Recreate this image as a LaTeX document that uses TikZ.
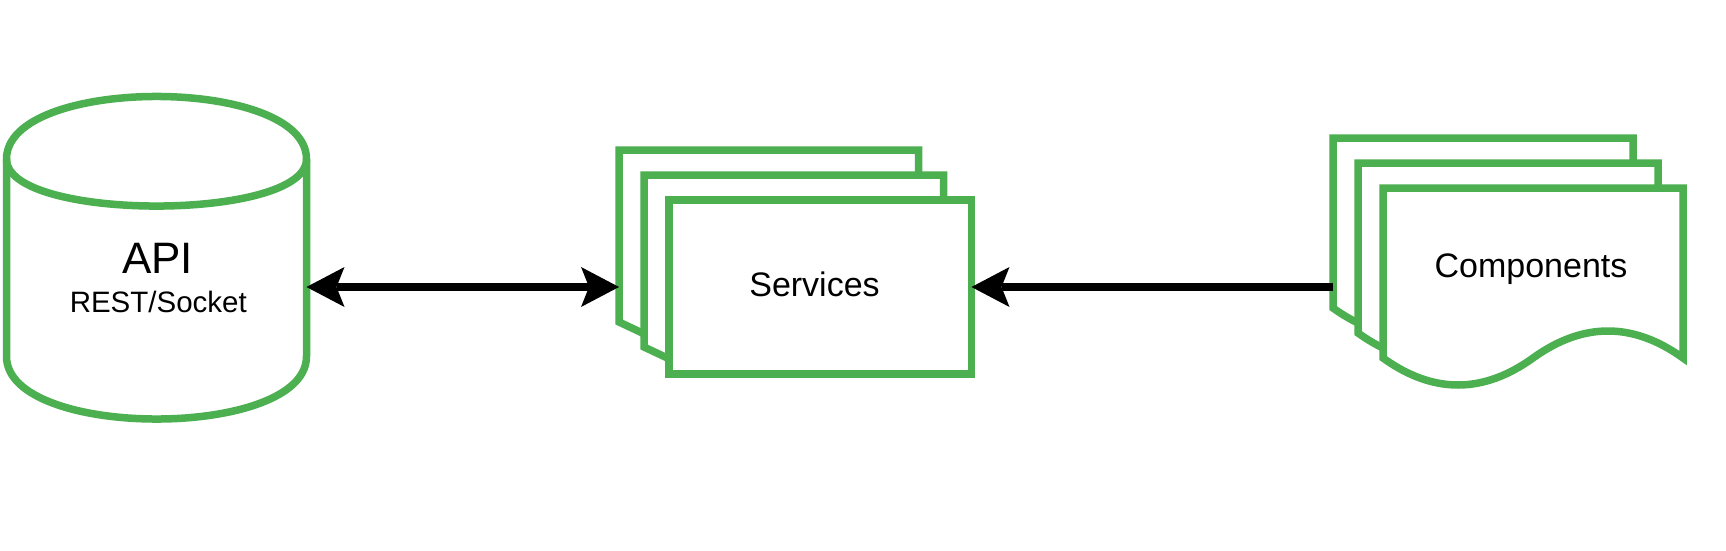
\documentclass[tikz,border=0pt]{standalone}
\usepackage{fontspec}
\setmainfont{Liberation Sans}
\usetikzlibrary{arrows.meta}
\definecolor{grn}{HTML}{4CAF50}
\begin{document}
\begin{tikzpicture}[x=1pt,y=-1pt,
  shapeline/.style={draw=grn, line width=7.5pt, fill=white, line join=miter},
  anchorbox/.style={draw=none, inner sep=0pt, outer sep=0pt},
  tipshape/.tip={Stealth[length=38pt,width=40pt,inset=8pt,line width=0pt]},
  conn/.style={draw=black, line width=7.5pt},
  lbl/.style={inner sep=0pt, anchor=base, text=black}]
\useasboundingbox[fill=white] (0,0) rectangle (1726,551);

% API cylinder
\path[shapeline] (6.5,159.1) .. controls (6.5,75.6) and (306.5,75.6) .. (306.5,159.1)
  -- (306.5,356.4) .. controls (306.5,439.9) and (6.5,439.9) .. (6.5,356.4) -- cycle;
\draw[draw=grn, line width=7.5pt] (6.5,159.1) .. controls (6.5,221.7) and (306.5,221.7) .. (306.5,159.1);
\node[anchorbox, minimum width=300pt, minimum height=322.5pt] (api) at (156.5,257.75) {};
\node[lbl, font=\fontsize{44}{52}\selectfont] (apititle) at (157.5,273.3) {API};
\node[lbl, font=\fontsize{29.5}{35}\selectfont] (apisub) at (158.3,312.7) {REST/Socket};

% Services stack
\path[shapeline] (619,150) -- (918.5,150) -- (918.5,330) -- (660,341.3) -- (619,322) -- cycle;
\path[shapeline] (644,175) -- (943.5,175) -- (943.5,355) -- (685,366.3) -- (644,347) -- cycle;
\path[shapeline] (669,200) rectangle (971.5,374);
\node[anchorbox, minimum width=299.5pt, minimum height=174pt] (svcb1) at (768.75,237) {};
\node[anchorbox, minimum width=302.5pt, minimum height=174pt] (svcf) at (820.25,287) {};
\node[lbl, font=\fontsize{34}{40}\selectfont] (svctext) at (814.5,296) {Services};

% Components stack
\begin{scope}[shift={(1333,138)}]
\path[shapeline] (0,0) -- (300,0) -- (300,170) .. controls (250,134) and (200,134) .. (150,170)
  .. controls (100,206) and (50,206) .. (0,170) -- cycle;
\end{scope}
\begin{scope}[shift={(1358,163)}]
\path[shapeline] (0,0) -- (300,0) -- (300,170) .. controls (250,134) and (200,134) .. (150,170)
  .. controls (100,206) and (50,206) .. (0,170) -- cycle;
\end{scope}
\begin{scope}[shift={(1383,188)}]
\path[shapeline] (0,0) -- (300,0) -- (300,170) .. controls (250,134) and (200,134) .. (150,170)
  .. controls (100,206) and (50,206) .. (0,170) -- cycle;
\end{scope}
\node[anchorbox, minimum width=300pt, minimum height=200pt] (compb1) at (1483,238) {};
\node[lbl, font=\fontsize{34}{40}\selectfont] (comptext) at (1531,277) {Components};

% connectors
\draw[conn, tipshape-tipshape] (api.east |- svcf.west) -- (svcb1.west |- svcf.west);
\draw[conn, -tipshape] (compb1.west |- svcf.east) -- (svcf.east);
\end{tikzpicture}
\end{document}
